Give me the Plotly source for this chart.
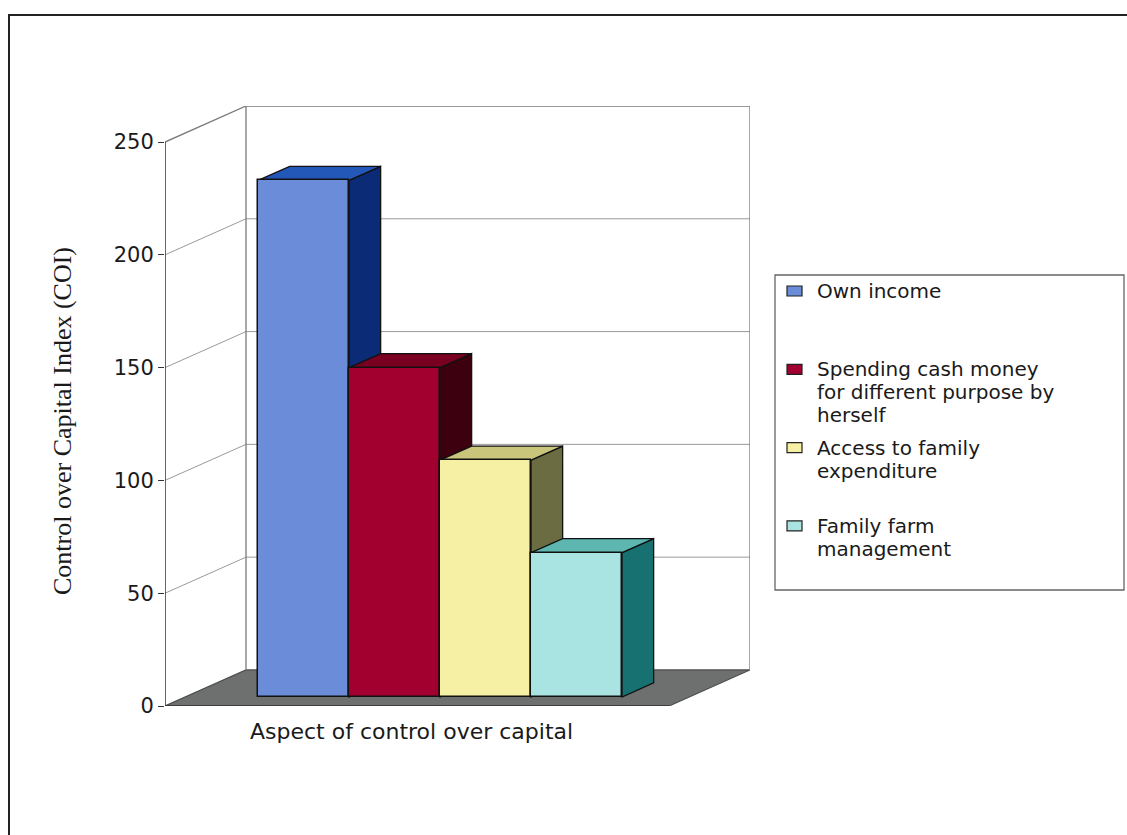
import plotly.graph_objects as go

# ---- data -------------------------------------------------------------
series_names = [
    "Own income",
    "Spending cash money for different purpose by herself",
    "Access to family expenditure",
    "Family farm management",
]
legend_lines = [
    ["Own income"],
    ["Spending cash money", "for different purpose by", "herself"],
    ["Access to family", "expenditure"],
    ["Family farm", "management"],
]
coi_values = [229, 146, 105, 64]
y_ticks = [0, 50, 100, 150, 200, 250]
x_title = "Aspect of control over capital"
y_title = "Control over Capital Index (COI)"

# ---- styles -----------------------------------------------------------
front_colors = ["#6b8cd8", "#a2002e", "#f6f0a4", "#a9e4e2"]
top_colors = ["#2358b8", "#7a0022", "#c9c67c", "#5db7b0"]
side_colors = ["#0b2b76", "#3c000f", "#6c6c42", "#177170"]
edge_color = "#111111"
floor_color = "#6e7070"
wall_line = "#7a7a7a"
grid_color = "#9a9a9a"

FIG_W, FIG_H = 1127, 835
# plot area in pixels (front-left corner of floor -> back-right top of wall)
PL, PR, PT, PB = 165, 750, 106, 706

# oblique 3-D box geometry (x in bar-width units, y in value units)
Y_MAX = 250
PX_PER_VAL = (PB - 143) / Y_MAX           # vertical scale
PX_PER_UNIT = 91.0                        # width of one bar in px
KX = 81 / PX_PER_UNIT                     # depth offset, x
KY = 36 / PX_PER_VAL                      # depth offset, y (value units)
WALL_W = (PR - PL) / PX_PER_UNIT - KX     # floor / back wall width
D_FRONT, D_BACK = 0.25, 0.64              # bar depth slice
BAR_W = 1.0
GROUP_LEFT = 0.80                         # gap before the first bar

X_RANGE = [0, WALL_W + KX]
Y_RANGE = [0, Y_MAX + KY]


def px_to_paper_x(px):
    return (px - PL) / (PR - PL)


def px_to_paper_y(py):
    return (PB - py) / (PB - PT)


def poly(points):
    return "M" + " L".join(f"{x:.4f},{y:.4f}" for x, y in points) + " Z"


shapes = []

# floor
shapes.append(dict(
    type="path", xref="x", yref="y", layer="below",
    path=poly([(0, 0), (WALL_W, 0), (WALL_W + KX, KY), (KX, KY)]),
    fillcolor=floor_color, line=dict(color="#4d4d4d", width=1.2),
))

# gridlines on side wall and back wall
for v in y_ticks[1:-1]:
    shapes.append(dict(type="line", xref="x", yref="y", layer="below",
                       x0=0, y0=v, x1=KX, y1=v + KY,
                       line=dict(color=grid_color, width=1)))
    shapes.append(dict(type="line", xref="x", yref="y", layer="below",
                       x0=KX, y0=v + KY, x1=KX + WALL_W, y1=v + KY,
                       line=dict(color=grid_color, width=1)))

# wall outlines
top = y_ticks[-1]
for (x0, y0, x1, y1) in [
    (0, top, KX, top + KY),                 # side wall top edge
    (KX, KY, KX, top + KY),                 # back-left corner
    (KX, top + KY, KX + WALL_W, top + KY),  # back wall top edge
    (KX + WALL_W, KY, KX + WALL_W, top + KY),  # back wall right edge
]:
    shapes.append(dict(type="line", xref="x", yref="y", layer="below",
                       x0=x0, y0=y0, x1=x1, y1=y1,
                       line=dict(color=wall_line, width=1.3)))

# value axis line and floor front edge
shapes.append(dict(type="line", xref="x", yref="y", layer="below",
                   x0=0, y0=0, x1=0, y1=top,
                   line=dict(color="#333333", width=1.5)))
shapes.append(dict(type="line", xref="x", yref="y", layer="below",
                   x0=0, y0=0, x1=WALL_W, y1=0,
                   line=dict(color="#333333", width=1.5)))
# category axis end ticks
for xt in (0, WALL_W):
    shapes.append(dict(type="line", xref="x", yref="y", layer="below",
                       ysizemode="pixel", yanchor=0, x0=xt, x1=xt, y0=0, y1=-6,
                       line=dict(color="#333333", width=1.3)))

# side and top faces of each bar (drawn left to right)
bar_front_x = []
for i, v in enumerate(coi_values):
    left = GROUP_LEFT + i * BAR_W
    right = left + BAR_W
    fx0, fx1 = left + D_FRONT * KX, right + D_FRONT * KX
    bx0, bx1 = left + D_BACK * KX, right + D_BACK * KX
    fy0, by0 = D_FRONT * KY, D_BACK * KY
    bar_front_x.append((fx0 + fx1) / 2)
    shapes.append(dict(
        type="path", xref="x", yref="y", layer="below",
        path=poly([(fx1, fy0), (fx1, v + fy0), (bx1, v + by0), (bx1, by0)]),
        fillcolor=side_colors[i], line=dict(color=edge_color, width=1.3),
    ))
    shapes.append(dict(
        type="path", xref="x", yref="y", layer="below",
        path=poly([(fx0, v + fy0), (fx1, v + fy0), (bx1, v + by0), (bx0, v + by0)]),
        fillcolor=top_colors[i], line=dict(color=edge_color, width=1.3),
    ))

fig = go.Figure()

# front faces of the bars
for i, v in enumerate(coi_values):
    fig.add_trace(go.Bar(
        x=[bar_front_x[i]], y=[v], base=[D_FRONT * KY], width=[BAR_W],
        name=series_names[i], showlegend=False,
        marker=dict(color=front_colors[i], line=dict(color=edge_color, width=1.5)),
        hovertemplate=f"{series_names[i]}: %{{y}}<extra></extra>",
    ))

# outer chart frame (left and top edges)
shapes.append(dict(
    type="path", xref="paper", yref="paper", layer="above",
    path=(f"M{px_to_paper_x(9)},{px_to_paper_y(FIG_H + 5)} "
          f"L{px_to_paper_x(9)},{px_to_paper_y(15)} "
          f"L{px_to_paper_x(FIG_W + 5)},{px_to_paper_y(15)}"),
    line=dict(color="#222222", width=2),
))

# legend
LEG_L, LEG_R, LEG_T, LEG_B = 775, 1124, 275, 590
shapes.append(dict(
    type="rect", xref="paper", yref="paper", layer="above",
    x0=px_to_paper_x(LEG_L), x1=px_to_paper_x(LEG_R),
    y0=px_to_paper_y(LEG_T), y1=px_to_paper_y(LEG_B),
    line=dict(color="#666666", width=1.3), fillcolor="rgba(255,255,255,0)",
))
annotations = []
ROW0, ROW_STEP, LINE_H = 291, 78.3, 23
for i, lines in enumerate(legend_lines):
    y_first = ROW0 + i * ROW_STEP
    shapes.append(dict(
        type="rect", xref="paper", yref="paper", layer="above",
        x0=px_to_paper_x(787), x1=px_to_paper_x(802),
        y0=px_to_paper_y(y_first - 5), y1=px_to_paper_y(y_first + 5),
        fillcolor=front_colors[i], line=dict(color="#222222", width=1.2),
    ))
    for j, txt in enumerate(lines):
        annotations.append(dict(
            xref="paper", yref="paper", showarrow=False,
            x=px_to_paper_x(815), y=px_to_paper_y(y_first + j * LINE_H),
            xanchor="left", yanchor="middle", text=txt,
            font=dict(family="DejaVu Sans", size=20, color="#1a1a1a"),
        ))

# axis titles
annotations.append(dict(
    xref="paper", yref="paper", showarrow=False,
    x=px_to_paper_x(411), y=px_to_paper_y(731),
    xanchor="center", yanchor="middle", text=x_title,
    font=dict(family="DejaVu Sans", size=22, color="#1a1a1a"),
))
annotations.append(dict(
    xref="paper", yref="paper", showarrow=False,
    x=px_to_paper_x(62), y=px_to_paper_y(421), textangle=-90,
    xanchor="center", yanchor="middle", text=y_title,
    font=dict(family="Liberation Serif", size=26, color="#1a1a1a"),
))

fig.update_layout(
    width=FIG_W, height=FIG_H, autosize=False,
    margin=dict(l=PL, r=FIG_W - PR, t=PT, b=FIG_H - PB, pad=0),
    paper_bgcolor="white", plot_bgcolor="white",
    barmode="overlay", bargap=0,
    xaxis=dict(range=X_RANGE, visible=False, fixedrange=True),
    yaxis=dict(
        range=Y_RANGE, tickvals=y_ticks, ticktext=[str(t) for t in y_ticks],
        showgrid=False, zeroline=False, showline=False,
        ticks="outside", ticklen=6, tickwidth=1.3, tickcolor="#333333",
        tickfont=dict(family="DejaVu Sans", size=21, color="#1a1a1a"),
        fixedrange=True,
    ),
    shapes=shapes,
    annotations=annotations,
    showlegend=False,
)

fig.write_html("out.html", config={"displayModeBar": False})
